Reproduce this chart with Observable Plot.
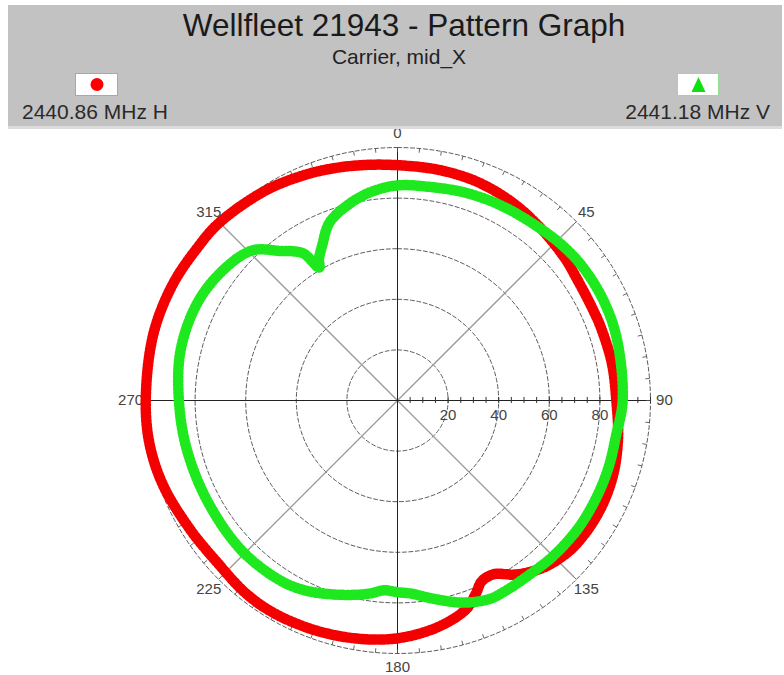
<!DOCTYPE html>
<html>
<head>
<meta charset="utf-8">
<script src="https://cdn.jsdelivr.net/npm/d3@7"></script>
<script src="https://cdn.jsdelivr.net/npm/@observablehq/plot@0.6"></script>
<style>
  body { margin: 0; background: #fff; }
  #wrap { position: relative; width: 784px; height: 675px; overflow: hidden; background: #fff; }
  #head { position: absolute; left: 0; top: 0; }
  #chart { position: absolute; left: 0; top: 112px; }
</style>
</head>
<body>
<div id="wrap">
  <div id="chart"></div>
  <svg id="head" width="784" height="130" font-family="'Liberation Sans', Arial, sans-serif">
    <rect x="8" y="5" width="774" height="121" fill="#c2c2c2"></rect>
    <rect x="8" y="126" width="774" height="3" fill="#dcdcdc"></rect>
    <text id="title" x="404" y="36" text-anchor="middle" font-size="31.5" fill="#1a1a1a"></text>
    <text id="subtitle" x="399" y="64" text-anchor="middle" font-size="21" fill="#222"></text>
    <rect x="75.5" y="73.5" width="42" height="22" fill="#fff" stroke="#e09090" stroke-width="1"></rect>
    <circle cx="97" cy="84.5" r="6.5" fill="#ff0000"></circle>
    <rect x="677.5" y="73.5" width="41" height="22" fill="#fff" stroke="#90e090" stroke-width="1"></rect>
    <path d="M698.5,77 L705.5,92 L691.5,92 Z" fill="#10e010"></path>
    <text id="legH" x="22" y="119" font-size="21" fill="#2a2a2a"></text>
    <text id="legV" x="770" y="119" text-anchor="end" font-size="21" fill="#2a2a2a"></text>
  </svg>
</div>
<script>
// ---- texts ----
const titleText = "Wellfleet 21943 - Pattern Graph";
const subtitleText = "Carrier, mid_X";
const seriesH = "2440.86 MHz H";
const seriesV = "2441.18 MHz V";

// ---- axis / tick labels ----
const angleLabels = [0, 45, 90, 135, 180, 225, 270, 315];
const ringValues = [20, 40, 60, 80, 100];
const radialLabels = [20, 40, 60, 80];

// ---- series: H (red, circles) ----
const hAngles = [0, 10, 20, 30, 40, 50, 55, 60, 65, 70, 80, 90, 100, 110, 120, 130, 137, 141, 146, 151, 155, 158, 162, 170, 180, 190, 200, 210, 218, 228, 238, 250, 260, 270, 285, 297, 307, 315, 328, 337, 344, 352];
const hValues = [93, 92.6, 92, 90.5, 88.5, 86.8, 85.8, 85.3, 85.2, 85.4, 86, 86.5, 88.5, 90.3, 91, 90.5, 88.5, 86.5, 83, 78.5, 78.8, 82.5, 87, 91, 94, 95.5, 96.5, 97.2, 97, 95.8, 96.5, 98.5, 99.5, 99.5, 100, 100, 99.5, 99.5, 98, 96.5, 95.3, 94];

// ---- series: V (green, triangles) ----
const vAngles = [0, 9, 18, 27, 37, 47, 55, 65, 75, 90, 99, 107, 115, 125, 135, 142, 150, 155, 162, 170, 176, 180, 184, 188, 192, 199, 206, 213, 226, 242, 257, 270, 283, 296, 307, 316, 322, 325, 327.5, 329.5, 331, 334, 339, 345.5, 352.5];
const vValues = [85, 85.4, 86.4, 87.2, 88, 89.5, 90.3, 90.5, 90, 89, 87.5, 87.5, 87.5, 87.5, 87, 86.4, 86.5, 86.5, 84, 79.5, 76.5, 75.8, 75.2, 77, 78.5, 81, 83.5, 84.9, 85.5, 85, 85.5, 86.4, 88, 88, 86, 82.5, 75, 72, 68.8, 61, 64, 68, 75.2, 79.6, 83];

document.getElementById("title").textContent = titleText;
document.getElementById("subtitle").textContent = subtitleText;
document.getElementById("legH").textContent = seriesH;
document.getElementById("legV").textContent = seriesV;

const rad = d => d * Math.PI / 180;
const polar = (a, r) => ({x: r * Math.sin(rad(a)), y: r * Math.cos(rad(a))});

const toRows = (angles, values, name) =>
  angles.map((a, i) => ({series: name, angle: a, value: values[i], ...polar(a, values[i])}));
const hRows = toRows(hAngles, hValues, seriesH);
const vRows = toRows(vAngles, vValues, seriesV);

// grid geometry
const ringRows = ringValues.flatMap(r => d3.range(0, 360, 2).map(a => ({ring: r, ...polar(a, r)})));
const spokes = [45, 135, 225, 315].map(a => ({x1: 0, y1: 0, x2: polar(a, 98.5).x, y2: polar(a, 98.5).y}));
const outerTicks = d3.range(0, 360, 5).map(a => ({x1: polar(a, 100).x, y1: polar(a, 100).y, x2: polar(a, 98.3).x, y2: polar(a, 98.3).y}));
const axisTicks = d3.range(5, 101, 5);
const labelRows = angleLabels.map(a => ({text: String(a), ...polar(a, 105.5)}));

const K = 2.53, W = 784, H = 563, cx = 397, cy = 288;

const chart = Plot.plot({
  width: W, height: H, margin: 0,
  x: {domain: [-cx / K, (W - cx) / K], range: [0, W], axis: null},
  y: {domain: [-(H - cy) / K, cy / K], range: [H, 0], axis: null},
  style: {fontFamily: "'Liberation Sans', Arial, sans-serif", background: "#fff"},
  marks: [
    Plot.line(ringRows, {x: "x", y: "y", z: "ring", curve: "linear-closed", stroke: "#4a4a4a", strokeWidth: 0.9, strokeDasharray: "4,2.5"}),
    Plot.link(spokes, {x1: "x1", y1: "y1", x2: "x2", y2: "y2", stroke: "#9a9a9a", strokeWidth: 1.3}),
    Plot.link([{x1: -100, y1: 0, x2: 100, y2: 0}, {x1: 0, y1: -100, x2: 0, y2: 100}], {x1: "x1", y1: "y1", x2: "x2", y2: "y2", stroke: "#222", strokeWidth: 1}),
    Plot.link(outerTicks, {x1: "x1", y1: "y1", x2: "x2", y2: "y2", stroke: "#555", strokeWidth: 0.9}),
    Plot.link(axisTicks, {x1: d => d, x2: d => d, y1: -1, y2: 1.4, stroke: "#333", strokeWidth: 1}),
    Plot.text(radialLabels, {x: d => d, y: -5.9, text: d => String(d), fontSize: 15, fill: "#444"}),
    Plot.text(labelRows, {x: "x", y: "y", text: "text", fontSize: 15, fill: "#444"}),
    // H series (red)
    Plot.line(hRows, {x: "x", y: "y", curve: "catmull-rom-closed", stroke: "#f40000", strokeWidth: 8}),
    Plot.line(hRows, {x: "x", y: "y", curve: "catmull-rom-closed", stroke: "#f40000", strokeWidth: 10.5, strokeDasharray: "2,2"}),
    // V series (green)
    Plot.line(vRows, {x: "x", y: "y", curve: "catmull-rom-closed", stroke: "#1ee81e", strokeWidth: 6}),
    Plot.line(vRows, {x: "x", y: "y", curve: "catmull-rom-closed", stroke: "#1ee81e", strokeWidth: 10.5, strokeDasharray: "1.6,2.4"})
  ]
});
document.getElementById("chart").appendChild(chart);
</script>
</body>
</html>
